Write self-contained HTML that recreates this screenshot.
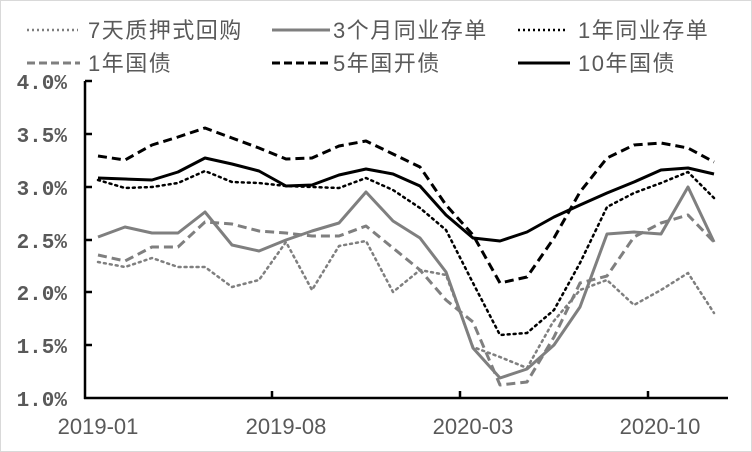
<!DOCTYPE html>
<html><head><meta charset="utf-8"><style>
html,body{margin:0;padding:0;background:#fff}
svg{display:block}
text{font-family:"Liberation Sans","Noto Sans CJK SC",sans-serif;fill:#595959}
</style></head><body>
<svg width="752" height="452" viewBox="0 0 752 452">
<rect x="0.5" y="0.5" width="751" height="451" fill="#fff" stroke="#d9d9d9"/>
<!-- legend -->
<g font-size="22" letter-spacing="1.5">
<line x1="27" y1="30" x2="78" y2="30" stroke="#7f7f7f" stroke-width="2.5" stroke-dasharray="2,3"/>
<text x="88" y="38">7天质押式回购</text>
<line x1="272" y1="30" x2="330" y2="30" stroke="#7f7f7f" stroke-width="3"/>
<text x="333" y="38">3个月同业存单</text>
<line x1="518" y1="30" x2="568" y2="30" stroke="#000" stroke-width="2.5" stroke-dasharray="2,3"/>
<text x="578" y="38">1年同业存单</text>
<line x1="27" y1="63" x2="80" y2="63" stroke="#7f7f7f" stroke-width="3" stroke-dasharray="8,4"/>
<text x="88" y="71">1年国债</text>
<line x1="272" y1="63" x2="330" y2="63" stroke="#000" stroke-width="3" stroke-dasharray="8,4"/>
<text x="333" y="71">5年国开债</text>
<line x1="518" y1="63" x2="570" y2="63" stroke="#000" stroke-width="3"/>
<text x="578" y="71">10年国债</text>
</g>
<!-- axes -->
<g stroke="#000" stroke-width="2.5">
<line x1="85" y1="81" x2="85" y2="399"/>
<line x1="84" y1="398" x2="728" y2="398"/>
<line x1="85" y1="81" x2="92" y2="81"/>
<line x1="85" y1="134" x2="92" y2="134"/>
<line x1="85" y1="187" x2="92" y2="187"/>
<line x1="85" y1="240" x2="92" y2="240"/>
<line x1="85" y1="292" x2="92" y2="292"/>
<line x1="85" y1="345" x2="92" y2="345"/>
<line x1="272" y1="391" x2="272" y2="398"/>
<line x1="460" y1="391" x2="460" y2="398"/>
<line x1="648" y1="391" x2="648" y2="398"/>
</g>
<g font-size="21" font-weight="bold" text-anchor="end">
<text x="67" y="89" style="font-family:'Liberation Mono',monospace">4.0%</text>
<text x="67" y="142" style="font-family:'Liberation Mono',monospace">3.5%</text>
<text x="67" y="195" style="font-family:'Liberation Mono',monospace">3.0%</text>
<text x="67" y="248" style="font-family:'Liberation Mono',monospace">2.5%</text>
<text x="67" y="300" style="font-family:'Liberation Mono',monospace">2.0%</text>
<text x="67" y="353" style="font-family:'Liberation Mono',monospace">1.5%</text>
<text x="67" y="406" style="font-family:'Liberation Mono',monospace">1.0%</text>
</g>
<g font-size="22" text-anchor="middle">
<text x="98" y="434">2019-01</text>
<text x="286" y="434">2019-08</text>
<text x="473" y="434">2020-03</text>
<text x="660" y="434">2020-10</text>
</g>
<!-- series -->
<g fill="none" stroke-linejoin="round">
<polyline stroke="#7f7f7f" stroke-width="2.5" stroke-dasharray="2,4" stroke-linecap="round" points="98,262 125,267 152,258 178,267 205,267 232,287 259,280 286,242 312,290 339,246 366,241 393,292 420,270 446,275 473,347 500,357 527,368 553,322 580,290 607,280 634,305 661,290 688,273 714,313"/>
<polyline stroke="#7f7f7f" stroke-width="3" points="98,237 125,227 152,233 178,233 205,212 232,245 259,251 286,240 312,231 339,223 366,192 393,221 420,238 446,272 473,348 500,378 527,369 554,345 580,307 607,234 634,232 661,234 688,187 714,242"/>
<polyline stroke="#000" stroke-width="2.5" stroke-dasharray="2,4" stroke-linecap="round" points="98,180 125,188 152,187 178,183 205,171 232,182 259,183 286,186 312,187 339,188 366,178 393,190 420,208 446,230 473,283 500,335 527,333 554,310 580,263 607,207 634,193 661,183 688,172 714,198"/>
<polyline stroke="#7f7f7f" stroke-width="3" stroke-dasharray="9,5" points="98,255 125,261 152,247 178,247 205,222 232,224 259,231 286,233 312,236 339,236 366,226 393,248 420,270 446,300 473,322 500,385 527,382 554,337 580,283 607,276 634,237 661,223 688,215 714,242"/>
<polyline stroke="#000" stroke-width="3" stroke-dasharray="9,5" points="98,156 125,160 152,145 178,137 205,128 232,138 259,148 286,159 312,158 339,146 366,141 393,154 420,167 446,205 473,235 500,283 527,277 554,238 580,192 607,158 634,145 661,143 688,148 714,162"/>
<polyline stroke="#000" stroke-width="3" points="98,178 125,179 152,180 178,172 205,158 232,164 259,171 286,186 312,185 339,175 366,169 393,174 420,186 446,215 473,238 500,241 527,232 554,217 580,205 607,193 634,182 661,170 688,168 714,174"/>
</g>
</svg>
</body></html>
